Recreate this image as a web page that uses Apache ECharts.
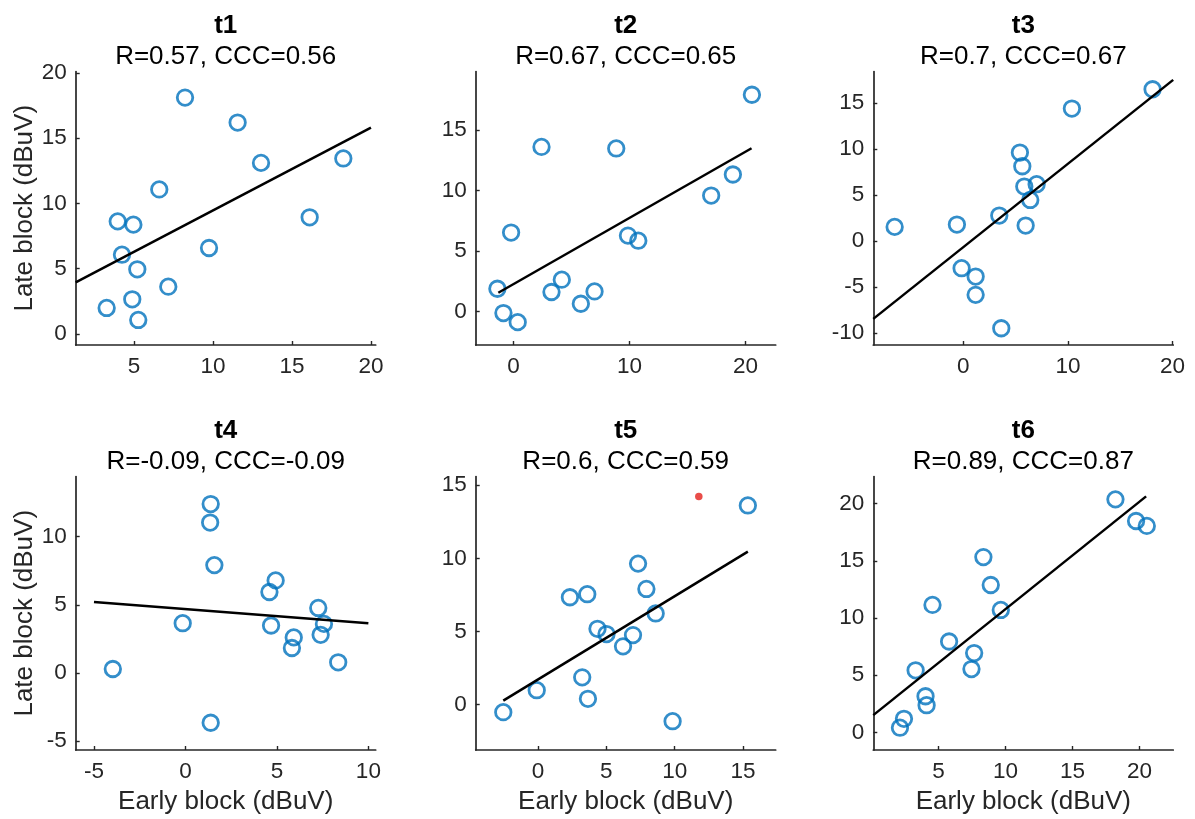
<!DOCTYPE html>
<html>
<head>
<meta charset="utf-8">
<script src="https://cdn.jsdelivr.net/npm/echarts@6/dist/echarts.min.js"></script>
<style>
html,body{margin:0;padding:0;background:#fff;}
#chart{width:1195px;height:819px;}
</style>
</head>
<body>
<div id="chart"></div>
<script>
// ---- data ----
const panelNames = ['t1','t2','t3','t4','t5','t6'];
const statTexts = ['R=0.57, CCC=0.56','R=0.67, CCC=0.65','R=0.7, CCC=0.67','R=-0.09, CCC=-0.09','R=0.6, CCC=0.59','R=0.89, CCC=0.87'];

const early1 = [3.27,3.97,4.96,4.24,5.21,4.89,5.27,6.6,7.17,8.23,9.75,11.56,13.04,16.12,18.25];
const late1  = [1.99,8.62,8.37,6.07,4.95,2.65,1.07,11.07,3.62,18.1,6.58,16.19,13.1,8.93,13.44];
const early2 = [-1.38,-0.86,0.37,-0.2,2.42,3.28,4.17,5.81,6.99,8.86,9.87,10.76,17.04,18.91,20.55];
const late2  = [1.9,-0.11,-0.86,6.54,13.62,1.63,2.65,0.66,1.68,13.49,6.29,5.87,9.6,11.34,17.93];
const early3 = [-6.56,-0.61,-0.16,1.18,1.18,3.63,3.44,5.41,5.64,5.83,5.96,6.4,7.01,10.38,18.09];
const late3  = [1.56,1.81,-2.93,-3.84,-5.83,-9.46,2.79,9.64,8.15,5.94,1.7,4.49,6.2,14.42,16.52];
const early4 = [-3.97,-0.15,1.38,1.35,1.58,1.38,4.59,4.93,4.68,5.92,5.82,7.26,7.57,7.39,8.35];
const late4  = [0.29,3.65,12.39,11.03,7.91,-3.65,5.94,6.79,3.48,2.61,1.83,4.77,3.6,2.8,0.78];
const early5 = [-2.55,-0.1,2.33,3.6,3.23,3.65,4.35,5.01,6.22,6.95,7.32,7.93,8.61,9.85,15.36];
const late5  = [-0.52,0.98,7.34,7.55,1.86,0.39,5.18,4.82,3.98,4.75,9.64,7.91,6.23,-1.14,13.62];
const early6 = [2.12,2.42,3.29,4.03,4.11,4.55,5.79,7.46,7.66,8.35,8.9,9.65,18.21,19.75,20.55];
const late6  = [0.41,1.19,5.43,3.16,2.38,11.15,7.95,5.54,6.94,15.33,12.89,10.71,20.38,18.49,18.06];

// regression line endpoints [x0, y0, x1, y1]
const fit1 = [1.31, 3.95, 20.0, 15.8];
const fit2 = [-1.3, 1.57, 20.52, 13.51];
const fit3 = [-8.6, -8.44, 20.06, 17.54];
const fit4 = [-5.0, 5.21, 10.0, 3.65];
const fit5 = [-2.55, 0.27, 15.36, 10.46];
const fit6 = [0.13, 1.51, 20.5, 20.64];

// red marker in t5
const redPoint5 = [11.77, 14.23];

// axis limits and tick labels
const xlims = [[1.31,20.3],[-3.25,22.6],[-8.6,20.07],[-6.0,10.4],[-4.57,17.4],[0.13,22.53]];
const ylims = [[-0.85,20.1],[-2.75,19.85],[-11.28,18.45],[-5.65,14.41],[-3.11,15.6],[-1.54,22.38]];
const xticks = [[5,10,15,20],[0,10,20],[0,10,20],[-5,0,5,10],[0,5,10,15],[5,10,15,20]];
const yticks = [[0,5,10,15,20],[0,5,10,15],[-10,-5,0,5,10,15],[-5,0,5,10],[0,5,10,15],[0,5,10,15,20]];

const xName = 'Early block (dBuV)';
const yName = 'Late block (dBuV)';

// ---- layout ----
const earlies = [early1,early2,early3,early4,early5,early6];
const lates = [late1,late2,late3,late4,late5,late6];
const fits = [fit1,fit2,fit3,fit4,fit5,fit6];
const lefts = [75.7, 475.7, 873.3];
const tops = [71.5, 476.5];
const W = 300, H = 273.5;
const FONT = '"Liberation Sans", Arial, Helvetica, sans-serif';
const axisColor = '#262626';

const grids = [], xAxes = [], yAxes = [], series = [], titles = [];
for (let i = 0; i < 6; i++) {
  const row = Math.floor(i / 3), col = i % 3;
  grids.push({left: lefts[col], top: tops[row], width: W, height: H, containLabel: false});
  const commonAxis = {
    axisLine: {show: true, onZero: false, lineStyle: {color: axisColor, width: 1.7}},
    axisTick: {show: true, inside: true, length: 4, lineStyle: {color: axisColor, width: 1.4}},
    axisLabel: {color: axisColor, fontSize: 22.5, fontFamily: FONT},
    splitLine: {show: false}
  };
  xAxes.push(Object.assign({}, commonAxis, {
    type: 'value', gridIndex: i, min: xlims[i][0], max: xlims[i][1],
    axisTick: Object.assign({}, commonAxis.axisTick, {customValues: xticks[i]}),
    axisLabel: Object.assign({}, commonAxis.axisLabel, {customValues: xticks[i], margin: 10}),
    name: row === 1 ? xName : '', nameLocation: 'middle', nameGap: 38.5,
    nameTextStyle: {color: axisColor, fontSize: 26, fontFamily: FONT}
  }));
  yAxes.push(Object.assign({}, commonAxis, {
    type: 'value', gridIndex: i, min: ylims[i][0], max: ylims[i][1],
    axisTick: Object.assign({}, commonAxis.axisTick, {customValues: yticks[i]}),
    axisLabel: Object.assign({}, commonAxis.axisLabel, {customValues: yticks[i], margin: 9}),
    name: col === 0 ? yName : '', nameLocation: 'middle', nameGap: 35, nameRotate: 90,
    nameTextStyle: {color: axisColor, fontSize: 26, fontFamily: FONT}
  }));
  const pts = earlies[i].map((x, k) => [x, lates[i][k]]);
  series.push({
    type: 'scatter', xAxisIndex: i, yAxisIndex: i, data: pts,
    symbol: 'circle', symbolSize: 15.5,
    itemStyle: {color: 'rgba(0,0,0,0)', borderColor: '#0072BD', borderWidth: 2.8},
    emphasis: {disabled: true}, z: 2
  });
  const f = fits[i];
  series.push({
    type: 'line', xAxisIndex: i, yAxisIndex: i, data: [[f[0], f[1]], [f[2], f[3]]],
    symbol: 'none', lineStyle: {color: '#000', width: 2.5}, z: 3, silent: true
  });
  const cx = lefts[col] + W / 2;
  const ty = row === 0 ? 0 : 405;
  titles.push({text: panelNames[i], left: cx, top: ty + 13, textAlign: 'center', padding: 0,
    textStyle: {fontSize: 26, fontWeight: 'bold', color: '#000', fontFamily: FONT}});
  titles.push({text: statTexts[i], left: cx, top: ty + 44, textAlign: 'center', padding: 0,
    textStyle: {fontSize: 26, fontWeight: 'normal', color: '#000', fontFamily: FONT}});
}
series.push({
  type: 'scatter', xAxisIndex: 4, yAxisIndex: 4, data: [redPoint5],
  symbol: 'circle', symbolSize: 7.5, itemStyle: {color: '#E3201B'}, z: 4
});

const chart = echarts.init(document.getElementById('chart'), null, {renderer: 'canvas'});
chart.setOption({
  animation: false,
  backgroundColor: '#fff',
  title: titles,
  grid: grids,
  xAxis: xAxes,
  yAxis: yAxes,
  series: series
});
</script>
</body>
</html>
